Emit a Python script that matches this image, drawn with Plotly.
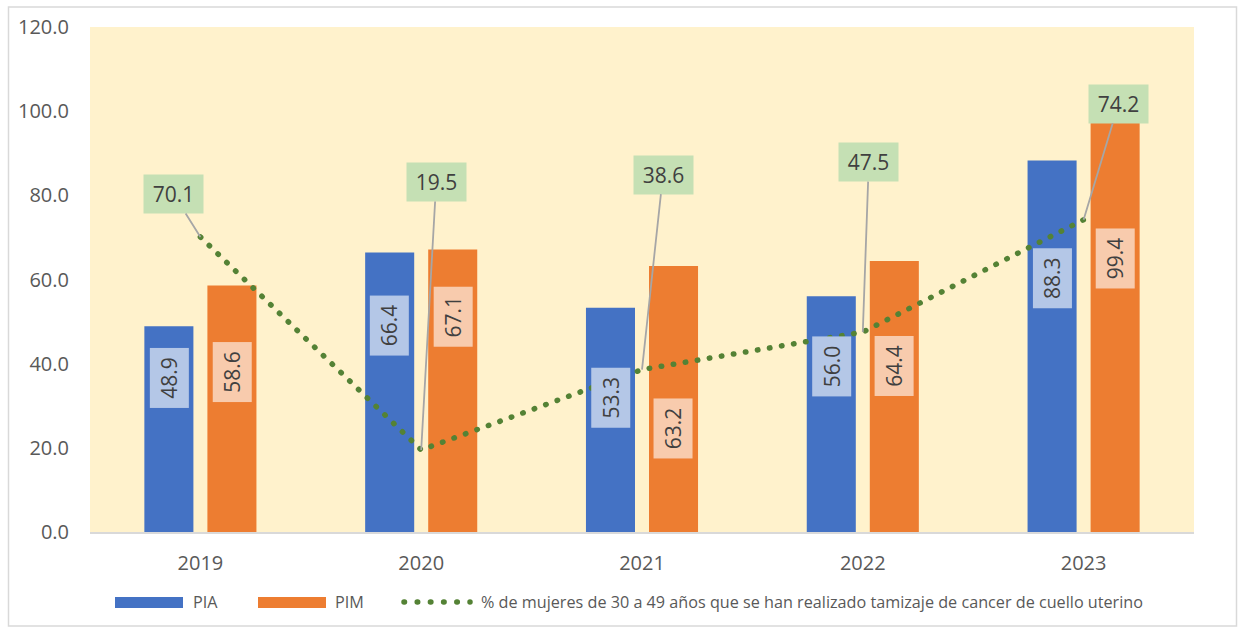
import plotly.graph_objects as go

years = ["2019", "2020", "2021", "2022", "2023"]
pia = [48.9, 66.4, 53.3, 56.0, 88.3]
pim = [58.6, 67.1, 63.2, 64.4, 99.4]
tamizaje = [70.1, 19.5, 38.6, 47.5, 74.2]
line_name = "% de mujeres de 30 a 49 años que se han realizado tamizaje de cancer de cuello uterino"

# label placement (style/position constants)
pia_label_y = [36.7, 49.1, 31.9, 39.3, 60.2]
pim_label_y = [38.1, 51.2, 24.6, 39.4, 64.9]
line_label_off = [(-27, -43), (15, -268), (21, -195), (6, -170), (35, -116)]

BLUE = "#4472C4"
ORANGE = "#ED7D31"
GREEN = "#548235"
FONT = "Open Sans"
TXT = "#404040"
TICK = "#595959"

W, H = 1243, 628
L, R, T, B = 90, 1194, 27, 532
PW, PH = R - L, B - T


def px(x):
    return (x - L) / PW


def py(y):
    return (B - y) / PH


fig = go.Figure()
fig.add_trace(go.Bar(x=years, y=pia, name="PIA", marker=dict(color=BLUE, line=dict(width=0))))
fig.add_trace(go.Bar(x=years, y=pim, name="PIM", marker=dict(color=ORANGE, line=dict(width=0))))
fig.add_trace(go.Scatter(x=years, y=tamizaje, name=line_name, mode="lines",
                         line=dict(color=GREEN, width=5.5, dash="0.5px,11.7px")))

ann = []
for i, (v, ly) in enumerate(zip(pia, pia_label_y)):
    ann.append(dict(x=i, y=ly, xref="x", yref="y", xshift=-31.5, text=f"{v:.1f}",
                    showarrow=False, textangle=-90, bgcolor="#B4C7E7",
                    width=57, height=36, borderpad=1,
                    font=dict(family=FONT, size=21, color=TXT)))
for i, (v, ly) in enumerate(zip(pim, pim_label_y)):
    ann.append(dict(x=i, y=ly, xref="x", yref="y", xshift=31.5, text=f"{v:.1f}",
                    showarrow=False, textangle=-90, bgcolor="#F8CBAD",
                    width=57, height=36, borderpad=1,
                    font=dict(family=FONT, size=21, color=TXT)))
for i, (v, (ax, ay)) in enumerate(zip(tamizaje, line_label_off)):
    ann.append(dict(x=i, y=v, xref="x", yref="y", ax=ax, ay=ay, text=f"{v:.1f}",
                    showarrow=True, arrowhead=0, arrowwidth=1.8, arrowcolor="#A6A6A6",
                    standoff=0, bgcolor="#C5E0B4", width=57, height=36, borderpad=1,
                    font=dict(family=FONT, size=21, color=TXT)))

# custom legend
LY = 602
LEG_FONT = dict(family=FONT, size=16.2, color=TICK)
ann.append(dict(x=px(191), y=py(LY), xref="paper", yref="paper", text="PIA", showarrow=False,
                xanchor="left", yanchor="middle", font=LEG_FONT))
ann.append(dict(x=px(333), y=py(LY), xref="paper", yref="paper", text="PIM", showarrow=False,
                xanchor="left", yanchor="middle", font=LEG_FONT))
ann.append(dict(x=px(479), y=py(LY), xref="paper", yref="paper", text=line_name, showarrow=False,
                xanchor="left", yanchor="middle", font=LEG_FONT))

shapes = [
    dict(type="rect", xref="paper", yref="paper", x0=px(115), x1=px(183), y0=py(597), y1=py(608),
         fillcolor=BLUE, line=dict(width=0)),
    dict(type="rect", xref="paper", yref="paper", x0=px(258), x1=px(326), y0=py(597), y1=py(608),
         fillcolor=ORANGE, line=dict(width=0)),
    dict(type="line", xref="paper", yref="paper", x0=px(404), x1=px(470), y0=py(LY), y1=py(LY),
         line=dict(color=GREEN, width=5.5, dash="0.5px,12.7px")),
    dict(type="rect", xref="paper", yref="paper", x0=px(8.5), x1=px(1236.5), y0=py(7), y1=py(626),
         line=dict(color="#D9D9D9", width=1.5), fillcolor="rgba(0,0,0,0)", layer="below"),
]

fig.update_layout(
    width=W, height=H,
    margin=dict(l=L, r=W - R, t=T, b=H - B, pad=0),
    paper_bgcolor="white", plot_bgcolor="#FFF2CC",
    barmode="group", bargap=0.429, bargroupgap=0.222,
    showlegend=False,
    annotations=ann, shapes=shapes,
    font=dict(family=FONT, color=TICK),
    xaxis=dict(type="category", range=[-0.5, len(years) - 0.5], showgrid=False, showline=True,
               linecolor="#D9D9D9", linewidth=2,
               ticks="", tickfont=dict(family=FONT, size=20, color=TICK),
               ticklabelstandoff=12, zeroline=False),
    yaxis=dict(range=[0, 120], dtick=20, tickformat=".1f", showgrid=False, showline=False,
               zeroline=False, ticks="", tickfont=dict(family=FONT, size=20, color=TICK),
               ticklabelstandoff=20),
)

post = """
document.body.style.margin='0';document.body.style.overflow='hidden';
function roundDots(){
  document.querySelectorAll('.scatterlayer path.js-line').forEach(function(p){p.style.strokeLinecap='round';});
  document.querySelectorAll('.shapelayer path').forEach(function(p){
    var d = p.style.strokeDasharray || p.getAttribute('stroke-dasharray') || '';
    if (d && d.indexOf('0.5') === 0) { p.style.strokeLinecap='round'; }
  });
}
roundDots(); setTimeout(roundDots, 50); setTimeout(roundDots, 300);
"""

fig.write_html("out.html", config={"displayModeBar": False}, post_script=post)
